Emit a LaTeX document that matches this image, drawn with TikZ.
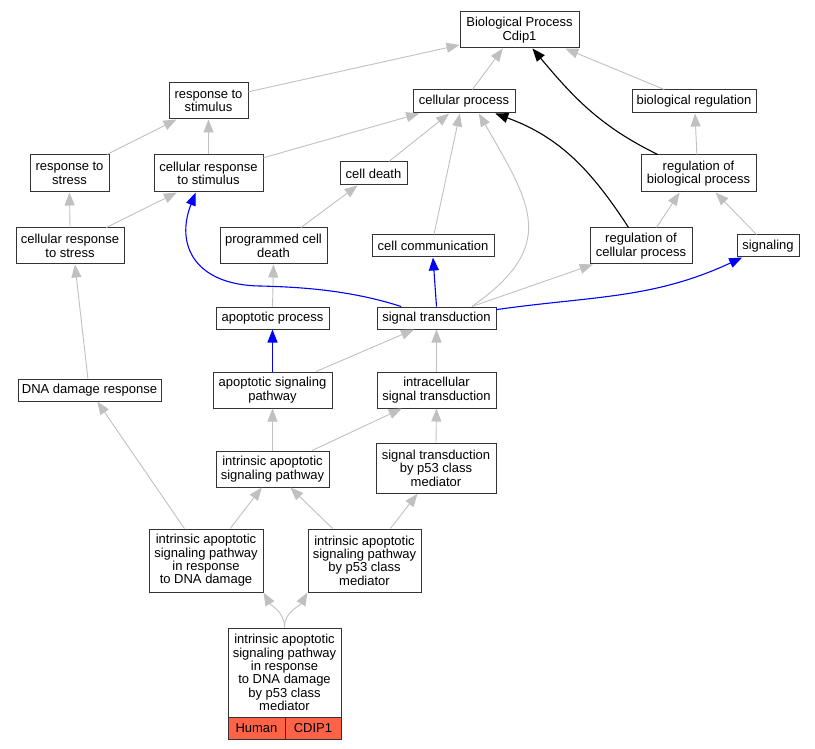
\documentclass[tikz,border=0pt]{standalone}
\usepackage{fontspec}
\setmainfont{Liberation Sans}
\usepackage{xcolor}
\usetikzlibrary{arrows.meta,positioning}
\definecolor{edgegray}{HTML}{C0C0C0}
\definecolor{tomato}{HTML}{FF6347}
\newcommand{\gofont}{\fontsize{13}{13.3}\selectfont}

\begin{document}
\begin{tikzpicture}[
      x=1pt, y=-1pt,
      go_node/.style={
         rectangle,
         draw=black!80,
         fill=white,
         line width=1pt,
         inner sep=0pt,
         align=center,
         font=\gofont},
      sz/.style 2 args={
         minimum width=#1pt,
         minimum height=#2pt},
      arrow_gray/.style={
        -{Triangle[length=13pt,width=10pt]},
        draw=edgegray,
        line width=0.9pt,
        },
      arrow_blue/.style={
        -{Triangle[length=13pt,width=10pt]},
        draw=blue,
        line width=1.1pt,
        },
      arrow_black/.style={
        -{Triangle[length=13pt,width=10pt]},
        draw=black,
        line width=1.1pt,
        }
]
      \useasboundingbox (0,0) rectangle (815,749);

      %root
      \node[go_node,sz={119}{36}] (bp) at (519.5,30) {Biological Process\\Cdip1};

      \node[go_node,sz={102}{23}] (cp) at (464,101.5) {cellular process};
      \node[go_node,sz={124}{23}] (breg) at (694,101.5) {biological regulation};
      \node[go_node,sz={79}{36}] (rstim) at (208.5,101) {response to\\stimulus};

      \node[go_node,sz={79}{37}] (rstress) at (69.5,173.5) {response to\\stress};
      \node[go_node,sz={109}{37}] (crstim) at (208.5,173.5) {cellular response\\to stimulus};
      \node[go_node,sz={67}{23}] (cdeath) at (373.5,173.5) {cell death};
      \node[go_node,sz={115}{37}] (rbp) at (698.5,173.5) {regulation of\\biological process};

      \node[go_node,sz={108}{36}] (crstress) at (70,246) {cellular response\\to stress};
      \node[go_node,sz={107}{36}] (pcd) at (273.5,246) {programmed cell\\death};
      \node[go_node,sz={122}{22}] (ccomm) at (433,246) {cell communication};
      \node[go_node,sz={102}{36}] (rcp) at (641,246) {regulation of\\cellular process};
      \node[go_node,sz={62}{22}] (sig) at (768,246) {signaling};

      \node[go_node,sz={113}{22}] (apop) at (272.5,318) {apoptotic process};
      \node[go_node,sz={119}{22}] (st) at (436.5,318) {signal transduction};

      \node[go_node,sz={143}{22}] (dna) at (89.5,390) {DNA damage response};
      \node[go_node,sz={119}{36}] (asp) at (272.5,390) {apoptotic signaling\\pathway};
      \node[go_node,sz={119}{36}] (ist) at (436.5,390) {intracellular\\signal transduction};

      \node[go_node,sz={113}{36}] (iasp) at (272.5,469) {intrinsic apoptotic\\signaling pathway};
      \node[go_node,sz={120}{50}] (stp53) at (436,468.3) {signal transduction\\by p53 class\\mediator};

      \node[go_node,sz={114}{63}] (iaspdna) at (206,560.5) {intrinsic apoptotic\\signaling pathway\\in response\\to DNA damage};
      \node[go_node,sz={113}{63}] (iaspp53) at (364.5,560.5) {intrinsic apoptotic\\signaling pathway\\by p53 class\\mediator};

      %annotated term
      \node[go_node,sz={113}{89}] (leaf) at (284.5,672.5) {intrinsic apoptotic\\signaling pathway\\in response\\to DNA damage\\by p53 class\\mediator};
      \node[go_node,sz={57}{22},fill=tomato] (human) at (256.5,728) {Human};
      \node[go_node,sz={56}{22},fill=tomato] (cdip) at (313,728) {CDIP1};

    \foreach \i/\j in {% child anchor/parent anchor
      rstim.13/bp.194,
      cp.55/bp.228,
      breg.158/bp.338,
      rstress.27/rstim.210,
      crstim.north/rstim.south,
      crstim.16/cp.195,
      cdeath.38/cp.219,
      ccomm.85/cp.251,
      crstress.north/rstress.south,
      crstress.27/crstim.211,
      pcd.34/cdeath.217,
      rbp.95/breg.275,
      rcp.50/rbp.225,
      sig.135/rbp.312,
      apop.north/pcd.south,
      st.18/rcp.201,
      asp.23/st.207,
      ist.north/st.south,
      dna.98/crstress.285,
      iasp.north/asp.south,
      iasp.25/ist.208,
      stp53.north/ist.south,
      iaspdna.124/dna.304,
      iaspdna.53/iasp.240,
      iaspp53.135/iasp.314,
      iaspp53.51/stp53.234}
      \draw [arrow_gray] (\i) -- (\j);

    \draw [arrow_gray] (st.18) to[out=35,in=-60,looseness=1.4] (cp.321);
    \draw [arrow_gray] (leaf.north) to[out=90,in=-60] (iaspdna.south east);
    \draw [arrow_gray] (leaf.north) to[out=90,in=-120] (iaspp53.south west);

    %blue edges
    \draw [arrow_blue] (st.162) .. controls (350,290) and (300,287) .. (260,286)
                       .. controls (195,285) and (175,245) .. (crstim.236);
    \draw [arrow_blue] (st.north) -- (ccomm.south);
    \draw [arrow_blue] (st.8) to[out=8,in=-155] (sig.204);
    \draw [arrow_blue] (asp.north) -- (apop.south);

    %black edges
    \draw [arrow_black] (rcp.124) to[out=123,in=-20] (cp.339);
    \draw [arrow_black] (rbp.155) to[out=154,in=-50] (bp.305);

\end{tikzpicture}
\end{document}
